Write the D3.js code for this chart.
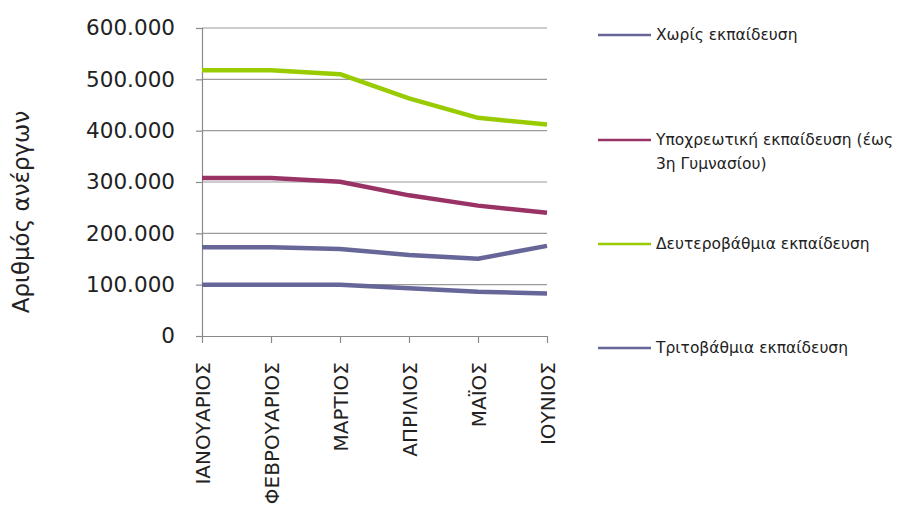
<!DOCTYPE html>
<html><head><meta charset="utf-8">
<script src="https://cdn.jsdelivr.net/npm/d3@7"></script>
<style>body{margin:0;background:#fff}svg{display:block}</style>
</head><body>
<svg id="c" width="902" height="515"></svg>
<script>
const months = ["ΙΑΝΟΥΑΡΙΟΣ","ΦΕΒΡΟΥΑΡΙΟΣ","ΜΑΡΤΙΟΣ","ΑΠΡΙΛΙΟΣ","ΜΑΪΟΣ","ΙΟΥΝΙΟΣ"];
const seriesNames = ["Χωρίς εκπαίδευση","Υποχρεωτική  εκπαίδευση (έως 3η Γυμνασίου)","Δευτεροβάθμια εκπαίδευση","Τριτοβάθμια εκπαίδευση"];
const legendLines = [["Χωρίς εκπαίδευση"],["Υποχρεωτική  εκπαίδευση (έως","3η Γυμνασίου)"],["Δευτεροβάθμια εκπαίδευση"],["Τριτοβάθμια εκπαίδευση"]];
const seriesColors = ["#666699","#993366","#99CC00","#666699"];
const noEdu = [100000,100000,100000,93000,86000,83000];
const compulsory = [308000,308000,300500,274000,254000,240000];
const secondary = [517500,517500,510000,463000,425000,412000];
const tertiary = [173000,173000,169500,158000,150500,175500];
const yTicks = [0,100000,200000,300000,400000,500000,600000];
const yTickLabels = ["0","100.000","200.000","300.000","400.000","500.000","600.000"];
const yTitle = "Αριθμός ανέργων";

const data = [noEdu, compulsory, secondary, tertiary];
const svg = d3.select("#c");
const L = 202, R = 547, T = 28, B = 336;
const x = d3.scalePoint().domain(months).range([L, R]).padding(0);
const y = d3.scaleLinear().domain([0, 600000]).range([B, T]);
const font = "DejaVu Sans, sans-serif";

// gridlines
svg.append("g").selectAll("line").data(yTicks.filter(d => d > 0)).join("line")
  .attr("x1", L).attr("x2", R).attr("y1", d => y(d)).attr("y2", d => y(d))
  .attr("stroke", "#9a9a9a").attr("stroke-width", 1.2);

// y axis
const yAxis = d3.axisLeft(y).tickValues(yTicks).tickSize(6).tickPadding(21)
  .tickFormat((d, i) => yTickLabels[i]);
const gy = svg.append("g").attr("transform", `translate(${L},0)`).call(yAxis);
gy.select(".domain").attr("stroke", "#8a8a8a").attr("stroke-width", 1.2);
gy.selectAll(".tick line").attr("stroke", "#8a8a8a").attr("stroke-width", 1.2);
gy.selectAll(".tick text").attr("font-family", font).attr("font-size", 21.5).attr("fill", "#222");

// x axis
const xAxis = d3.axisBottom(x).tickSize(7).tickSizeOuter(0).tickPadding(0);
const gx = svg.append("g").attr("transform", `translate(0,${B})`).call(xAxis);
gx.select(".domain").attr("stroke", "#8a8a8a").attr("stroke-width", 1.2);
gx.selectAll(".tick line").attr("stroke", "#8a8a8a").attr("stroke-width", 1.2);
gx.selectAll(".tick text").attr("font-family", font).attr("font-size", 20).attr("fill", "#222")
  .attr("transform", "translate(0,26) rotate(-90)").attr("text-anchor", "end")
  .attr("dy", "0.35em").attr("x", 0).attr("y", 0);

// y title
svg.append("text").attr("transform", "translate(29,212) rotate(-90)")
  .attr("text-anchor", "middle").attr("font-family", font).attr("font-size", 23).attr("fill", "#222")
  .text(yTitle);

// lines
const line = d3.line().x((d, i) => x(months[i])).y(d => y(d));
svg.append("g").selectAll("path").data(data).join("path")
  .attr("d", line).attr("fill", "none")
  .attr("stroke", (d, i) => seriesColors[i]).attr("stroke-width", 4.5)
  .attr("stroke-linejoin", "round");

// legend
const legY = [35, 140, 244, 348];
const lg = svg.append("g").selectAll("g").data(seriesNames).join("g")
  .attr("transform", (d, i) => `translate(598,${legY[i]})`);
lg.append("line").attr("x1", 0).attr("x2", 53).attr("y1", 0).attr("y2", 0)
  .attr("stroke", (d, i) => seriesColors[i]).attr("stroke-width", 2.5);
lg.each(function(d, i) {
  const t = d3.select(this).append("text").attr("font-family", font).attr("font-size", 15.5).attr("fill", "#222");
  legendLines[i].forEach((s, j) => t.append("tspan").attr("x", 58).attr("y", 5 + j * 24).text(s));
});
</script>
</body></html>
